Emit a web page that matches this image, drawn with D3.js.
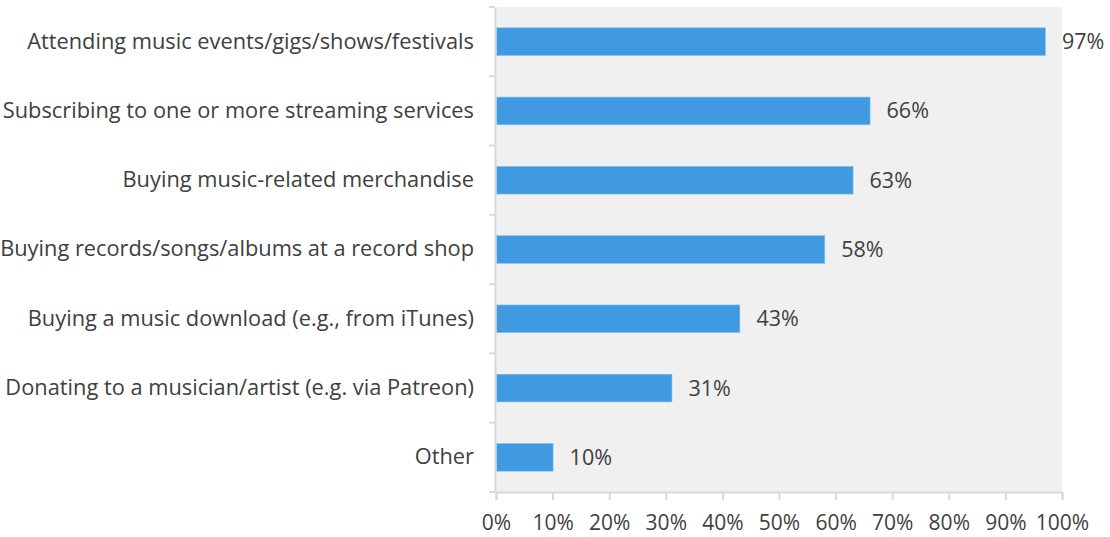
<!DOCTYPE html>
<html><head><meta charset="utf-8">
<script src="https://cdn.jsdelivr.net/npm/d3@7"></script>
<style>body{margin:0;background:#fff;} text{font-family:"Open Sans",sans-serif;}</style>
</head><body>
<svg id="c" width="1110" height="537"></svg>
<script>
const categories = [
  "Attending music events/gigs/shows/festivals",
  "Subscribing to one or more streaming services",
  "Buying music-related merchandise",
  "Buying records/songs/albums at a record shop",
  "Buying a music download (e.g., from iTunes)",
  "Donating to a musician/artist (e.g. via Patreon)",
  "Other"
];
const values = [97, 66, 63, 58, 43, 31, 10];
const xTicks = [0,10,20,30,40,50,60,70,80,90,100];

const svg = d3.select("#c");
const m = {left: 496, right: 1062, top: 7, bottom: 492};
const x = d3.scaleLinear().domain([0,100]).range([m.left, m.right]);
const y = d3.scaleBand().domain(categories).range([m.top, m.bottom]);

svg.append("rect").attr("x", m.left).attr("y", m.top)
  .attr("width", m.right - m.left).attr("height", m.bottom - m.top).attr("fill", "#f0f0f0");

const bh = y.bandwidth() * 0.4;
svg.selectAll("rect.bar").data(values).enter().append("rect").attr("class","bar")
  .attr("x", x(0)+0.5).attr("y", (d,i) => y(categories[i]) + (y.bandwidth()-bh)/2)
  .attr("width", d => x(d) - x(0)).attr("height", bh)
  .attr("fill", "#3f9ae2").attr("stroke", "#8cc2ee").attr("stroke-width", 0.6);

svg.selectAll("text.val").data(values).enter().append("text").attr("class","val")
  .attr("x", d => x(d) + 17).attr("y", (d,i) => y(categories[i]) + y.bandwidth()/2)
  .attr("dy", "0.35em").attr("font-size", 21.5).attr("fill", "#404040")
  .text(d => d + "%");

// x axis
const xa = svg.append("g").attr("transform", `translate(0,${m.bottom})`)
  .call(d3.axisBottom(x).tickValues(xTicks).tickFormat(d => d + "%").tickSize(8).tickPadding(15));
xa.select(".domain").attr("stroke", "#d9d9d9").attr("stroke-width", 2);
xa.selectAll(".tick line").attr("stroke", "#d9d9d9").attr("stroke-width", 2);
xa.selectAll(".tick text").attr("font-size", 21).attr("fill", "#404040").attr("font-family", "Open Sans");

// y axis
const ya = svg.append("g").attr("transform", `translate(${m.left-1},0)`)
  .call(d3.axisLeft(y).tickSize(0).tickPadding(21));
ya.select(".domain").attr("stroke", "#d9d9d9").attr("stroke-width", 2);
ya.selectAll(".tick text").attr("font-size", 21.8).attr("fill", "#404040").attr("font-family", "Open Sans");
// boundary ticks
const bounds = categories.map(c => y(c)).concat([m.bottom]);
svg.selectAll("line.bt").data(bounds).enter().append("line").attr("class","bt")
  .attr("x1", m.left - 7).attr("x2", m.left - 1).attr("y1", d => d).attr("y2", d => d)
  .attr("stroke", "#d9d9d9").attr("stroke-width", 2);
</script>
</body></html>
